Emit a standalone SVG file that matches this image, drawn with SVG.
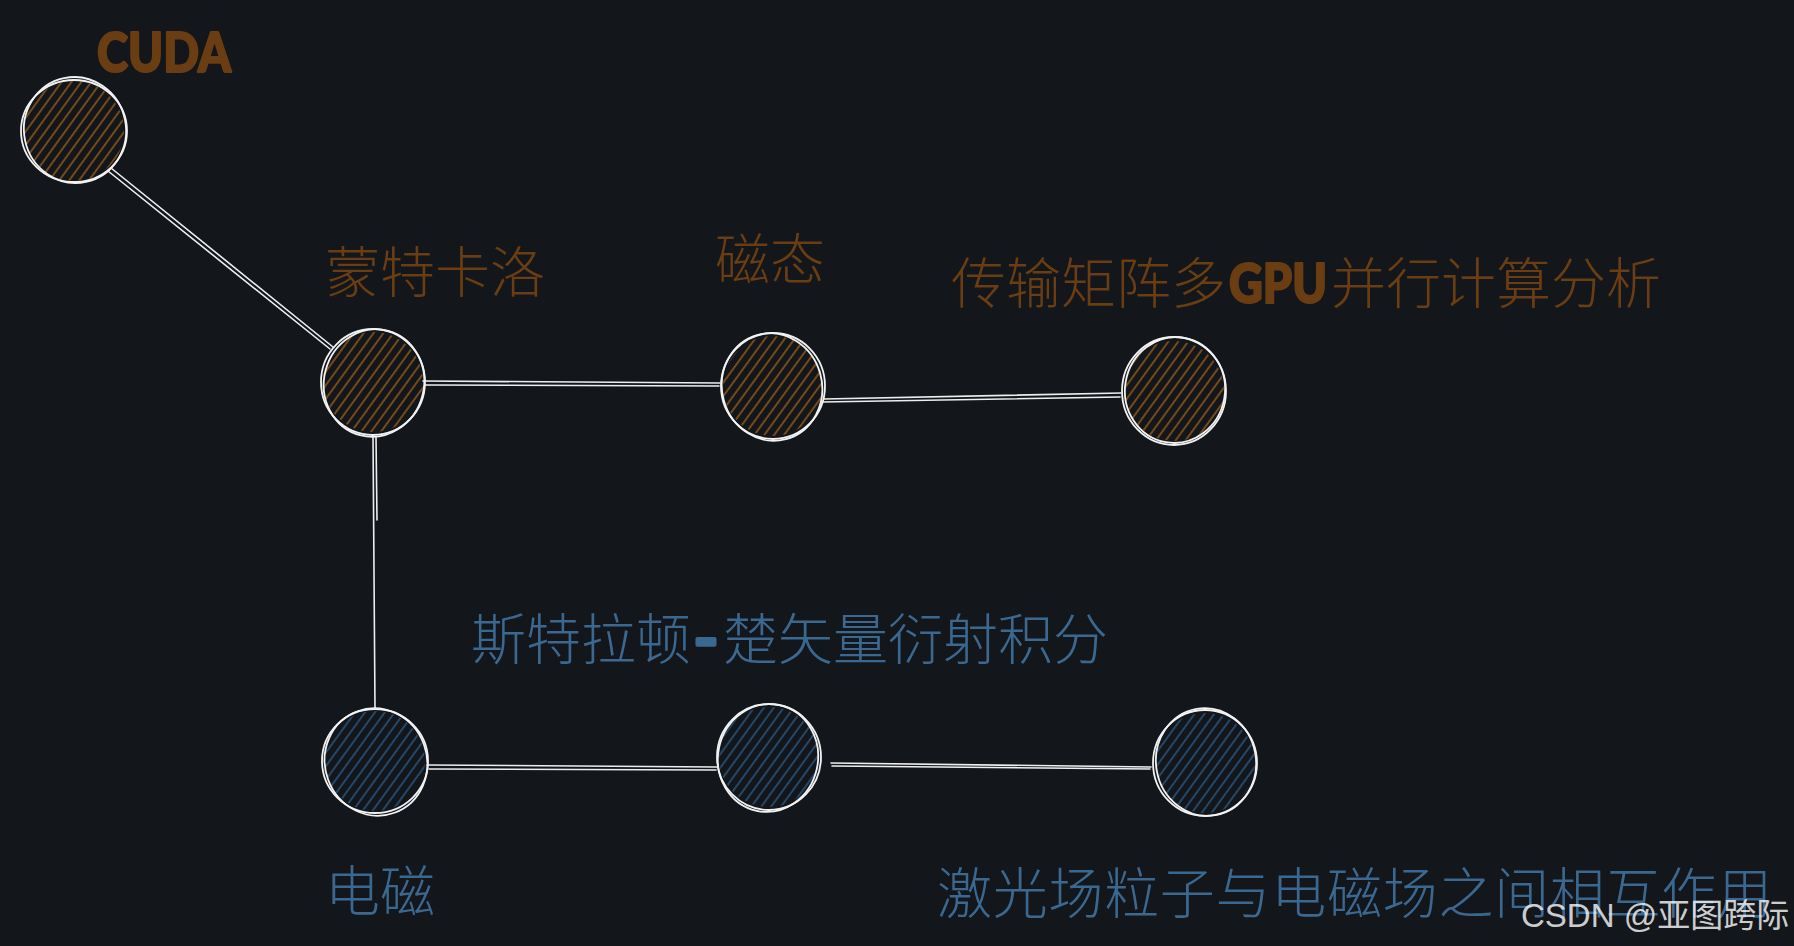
<svg xmlns="http://www.w3.org/2000/svg" width="1794" height="946" viewBox="0 0 1794 946">
<defs>
<pattern id="hO" width="8" height="8" patternUnits="userSpaceOnUse" patternTransform="rotate(36)">
<line x1="2" y1="0" x2="2" y2="8" stroke="#955a17" stroke-width="1.5"/>
</pattern>
<pattern id="hB" width="8" height="8" patternUnits="userSpaceOnUse" patternTransform="rotate(36)">
<line x1="2" y1="0" x2="2" y2="8" stroke="#2a5682" stroke-width="1.5"/>
</pattern>
<style>
.sk{fill:none;stroke:#f2f2f2;stroke-width:1.8}
.ln{fill:none;stroke:#eeeeee;stroke-width:1.6;stroke-linecap:round}
.cjk{font-family:"Noto Sans CJK SC","Noto Sans",sans-serif;font-size:55px;font-weight:300}
.br{fill:#6a3d12}
.bl{fill:#3b6891}
.bold{font-family:Lato,"Open Sans",sans-serif;font-weight:900;stroke-width:2.2;stroke-linejoin:round}
.br .bold,.bold.br{stroke:#6a3d12}
.bl .bold{stroke:#3b6891;stroke-width:3.5}
</style>
</defs>
<rect width="1794" height="946" fill="#13161b"/>

<g id="connectors">
<path class="ln" d="M111 168 L333 347 M108 171 L330 349"/>
<path class="ln" d="M423 381 L720 383 M425 385 L719 386"/>
<path class="ln" d="M824 399 L1121 393 M822 402 L1120 397"/>
<path class="ln" d="M373 435 L375 708 M376 437 L377 520"/>
<path class="ln" d="M427 765 L717 767 M429 769 L716 770"/>
<path class="ln" d="M831 763 L1151 767 M832 766 L1150 769"/>
</g>

<g id="node-cuda">
<circle cx="74" cy="131" r="50" fill="url(#hO)"/>
<ellipse class="sk" cx="74" cy="131" rx="53" ry="51"/>
<ellipse class="sk" cx="75" cy="130" rx="51" ry="53" transform="rotate(-12 75 130)"/>
<text x="97" y="72" class="bold br" font-size="55" textLength="134" lengthAdjust="spacingAndGlyphs">CUDA</text>
</g>

<g id="node-montecarlo">
<circle cx="373" cy="382" r="50" fill="url(#hO)"/>
<ellipse class="sk" cx="373" cy="382" rx="52" ry="53"/>
<ellipse class="sk" cx="374" cy="383" rx="50" ry="54" transform="rotate(15 374 383)"/>
<text x="325" y="292" class="cjk br">蒙特卡洛</text>
</g>

<g id="node-magnetic">
<circle cx="773" cy="386" r="50" fill="url(#hO)"/>
<ellipse class="sk" cx="773" cy="386" rx="52" ry="53"/>
<ellipse class="sk" cx="772" cy="387" rx="50" ry="54" transform="rotate(-15 772 387)"/>
<text x="715" y="279" class="cjk br" font-size="54">磁态</text>
</g>

<g id="node-transfer">
<circle cx="1174" cy="391" r="50" fill="url(#hO)"/>
<ellipse class="sk" cx="1174" cy="391" rx="52" ry="54"/>
<ellipse class="sk" cx="1175" cy="390" rx="50" ry="53" transform="rotate(10 1175 390)"/>
<text y="303" class="cjk br"><tspan x="951">传输矩阵多</tspan><tspan x="1229" class="bold" textLength="98" lengthAdjust="spacingAndGlyphs">GPU</tspan><tspan x="1331">并行计算分析</tspan></text>
</g>

<g id="node-em">
<circle cx="375" cy="761" r="50" fill="url(#hB)"/>
<ellipse class="sk" cx="375" cy="761" rx="53" ry="52"/>
<ellipse class="sk" cx="376" cy="762" rx="51" ry="54" transform="rotate(-20 376 762)"/>
<text x="325" y="911" class="cjk bl">电磁</text>
</g>

<g id="node-stratton">
<circle cx="769" cy="757" r="50" fill="url(#hB)"/>
<ellipse class="sk" cx="769" cy="757" rx="52" ry="53"/>
<ellipse class="sk" cx="768" cy="758" rx="50" ry="54" transform="rotate(12 768 758)"/>
<text y="659" class="cjk bl"><tspan x="471">斯特拉顿</tspan><tspan x="694" class="bold" textLength="24" lengthAdjust="spacingAndGlyphs">-</tspan><tspan x="723">楚矢量衍射积分</tspan></text>
</g>

<g id="node-laser">
<circle cx="1205" cy="763" r="50" fill="url(#hB)"/>
<ellipse class="sk" cx="1205" cy="763" rx="52" ry="53"/>
<ellipse class="sk" cx="1206" cy="762" rx="50" ry="54" transform="rotate(-10 1206 762)"/>
<text x="937" y="913" class="cjk bl" textLength="835" lengthAdjust="spacing">激光场粒子与电磁场之间相互作用</text>
</g>

<text x="1521" y="927" font-family="'Liberation Sans','Noto Sans CJK SC',sans-serif" font-size="33" fill="#ffffff" fill-opacity="0.8">CSDN @亚图跨际</text>
</svg>
